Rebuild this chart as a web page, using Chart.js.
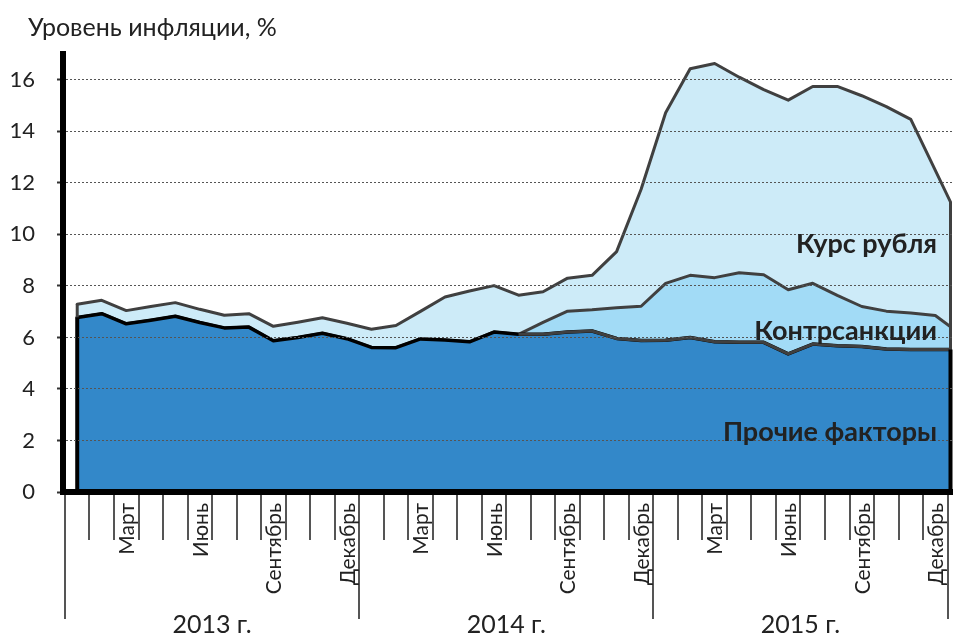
<!DOCTYPE html>
<html lang="ru">
<head>
<meta charset="utf-8">
<script src="https://cdn.jsdelivr.net/npm/chart.js@4/dist/chart.umd.min.js"></script>
<style>
  html, body { margin: 0; padding: 0; background: #fff; }
</style>
</head>
<body>
<canvas id="chart" width="958" height="636"></canvas>
<script>
const years = ['2013 г.', '2014 г.', '2015 г.'];
const monthTicks = ['', '', 'Март', '', '', 'Июнь', '', '', 'Сентябрь', '', '', 'Декабрь'];

// monthly values, Jan 2013 .. Jan 2016 (the last one is cut by the plot edge)
const other = [
  6.77, 6.92, 6.53, 6.67, 6.82, 6.58, 6.37, 6.40, 5.87, 6.00, 6.16, 5.95,
  5.61, 5.60, 5.94, 5.90, 5.83, 6.21, 6.12, 6.12, 6.21, 6.25, 5.96, 5.88,
  5.89, 6.00, 5.83, 5.81, 5.81, 5.36, 5.74, 5.68, 5.65, 5.55, 5.53, 5.53,
  5.53
];
const sanctions = [
  0, 0, 0, 0, 0, 0, 0, 0, 0, 0, 0, 0,
  0, 0, 0, 0, 0, 0, 0, 0.46, 0.81, 0.82, 1.19, 1.33,
  2.21, 2.41, 2.49, 2.70, 2.62, 2.49, 2.36, 1.95, 1.55, 1.47, 1.42, 1.32,
  0.62
];
const ruble = [
  0.52, 0.52, 0.51, 0.53, 0.53, 0.51, 0.49, 0.52, 0.56, 0.59, 0.60, 0.60,
  0.71, 0.86, 1.07, 1.67, 1.97, 1.80, 1.52, 1.19, 1.28, 1.34, 2.18, 4.54,
  6.62, 8.02, 8.31, 7.59, 7.19, 7.36, 7.64, 8.11, 8.18, 7.94, 7.51, 5.63,
  4.35
];
const sanctionsStart = 18; // July 2014

const LINE = '#404040';
const pts = arr => arr.map((v, i) => ({ x: i, y: v }));

// edge strokes, tick marks under the axis, title and area captions
const decorations = {
  id: 'decorations',
  afterDatasetsDraw(chart) {
    const { ctx, chartArea } = chart;
    const metas = [0, 1, 2].map(i => chart.getDatasetMeta(i).data);
    const base = chart.scales.y.getPixelForValue(0);

    // from July 2014 the border of the bottom layer is grey, like the others
    ctx.save();
    ctx.beginPath();
    ctx.rect(chartArea.left, chartArea.top, chartArea.width, chartArea.height);
    ctx.clip();
    ctx.strokeStyle = LINE;
    ctx.lineWidth = 3;
    ctx.lineJoin = 'round';
    ctx.beginPath();
    metas[0].slice(sanctionsStart).forEach((p, i) => i ? ctx.lineTo(p.x, p.y) : ctx.moveTo(p.x, p.y));
    ctx.stroke();
    ctx.restore();

    const edge = (xp, ys) => {
      ctx.save();
      ctx.lineCap = 'butt';
      ctx.strokeStyle = LINE; ctx.lineWidth = 3;
      ctx.beginPath(); ctx.moveTo(xp, ys[2]); ctx.lineTo(xp, ys[0]); ctx.stroke();
      ctx.strokeStyle = '#000'; ctx.lineWidth = 4;
      ctx.beginPath(); ctx.moveTo(xp, ys[0]); ctx.lineTo(xp, base); ctx.stroke();
      ctx.restore();
    };
    edge(metas[0][0].x, metas.map(d => d[0].y));
    const n = other.length - 1;
    const xr = chartArea.right - 1.5;
    edge(xr, metas.map(d => {
      const a = d[n - 1], b = d[n];
      const t = (xr - a.x) / (b.x - a.x);
      return a.y + (b.y - a.y) * t;
    }));
  },
  afterDraw(chart) {
    const { ctx, chartArea, scales: { x, y } } = chart;
    ctx.save();
    ctx.fillStyle = '#222';
    ctx.font = '25px Lato';
    ctx.textBaseline = 'middle';
    ctx.fillText('Уровень инфляции, %', 28, 28);

    ctx.strokeStyle = '#555';
    ctx.lineWidth = 2;
    for (let k = 0; k <= 36; k++) {
      const px = Math.round(x.getPixelForValue(k - 0.5));
      ctx.beginPath();
      ctx.moveTo(px, chartArea.bottom + 3);
      ctx.lineTo(px, k % 12 === 0 ? 619 : 540);
      ctx.stroke();
    }

    ctx.font = '21px Lato';
    ctx.textAlign = 'right';
    for (let i = 0; i < 36; i++) {
      const t = monthTicks[i % 12];
      if (!t) continue;
      ctx.save();
      ctx.translate(x.getPixelForValue(i) + 1, chartArea.bottom + 11);
      ctx.rotate(-Math.PI / 2);
      ctx.fillText(t, 0, 0);
      ctx.restore();
    }

    ctx.font = '25px Lato';
    ctx.textAlign = 'center';
    years.forEach((t, j) => ctx.fillText(t, x.getPixelForValue(j * 12 + 5.5), 625));

    ctx.font = 'bold 27px Lato';
    ctx.textAlign = 'right';
    const rx = chartArea.right - 15;
    ctx.fillText('Курс рубля', rx, y.getPixelForValue(9.6));
    ctx.fillText('Контрсанкции', rx, y.getPixelForValue(6.25));
    ctx.fillText('Прочие факторы', rx, y.getPixelForValue(2.3));
    ctx.restore();
  }
};

new Chart(document.getElementById('chart'), {
  type: 'line',
  data: {
    datasets: [
      {
        label: 'Прочие факторы',
        data: pts(other),
        backgroundColor: '#3388c9',
        borderColor: '#000',
        borderWidth: 3.5,
        fill: 'origin'
      },
      {
        label: 'Контрсанкции',
        data: pts(sanctions),
        backgroundColor: '#a2dbf6',
        borderColor: LINE,
        fill: '-1'
      },
      {
        label: 'Курс рубля',
        data: pts(ruble),
        backgroundColor: '#cdebf8',
        borderColor: LINE,
        fill: '-1'
      }
    ]
  },
  options: {
    responsive: false,
    animation: false,
    events: [],
    layout: { padding: { top: 54, right: 6, left: 0, bottom: 0 } },
    plugins: { legend: { display: false }, tooltip: { enabled: false } },
    elements: {
      point: { radius: 0 },
      line: { tension: 0, borderWidth: 3, borderJoinStyle: 'round', borderCapStyle: 'round' }
    },
    datasets: { line: { clip: 0 } },
    scales: {
      x: {
        type: 'linear',
        min: -0.58,
        max: 35.68,
        ticks: { display: false },
        grid: { display: false },
        border: { color: '#000', width: 6, z: 2 },
        afterFit: s => { s.height = 144; }
      },
      y: {
        stacked: true,
        min: 0,
        max: 17,
        ticks: {
          stepSize: 2,
          includeBounds: false,
          color: '#222',
          padding: 22,
          font: { family: 'Lato', size: 22 }
        },
        grid: { color: '#555', tickColor: '#333', tickLength: 6, tickWidth: 2, z: 1 },
        border: { color: '#000', width: 6, dash: [2, 2], z: 2 },
        afterFit: s => { s.width = 63; }
      }
    }
  },
  plugins: [decorations]
});
</script>
</body>
</html>
